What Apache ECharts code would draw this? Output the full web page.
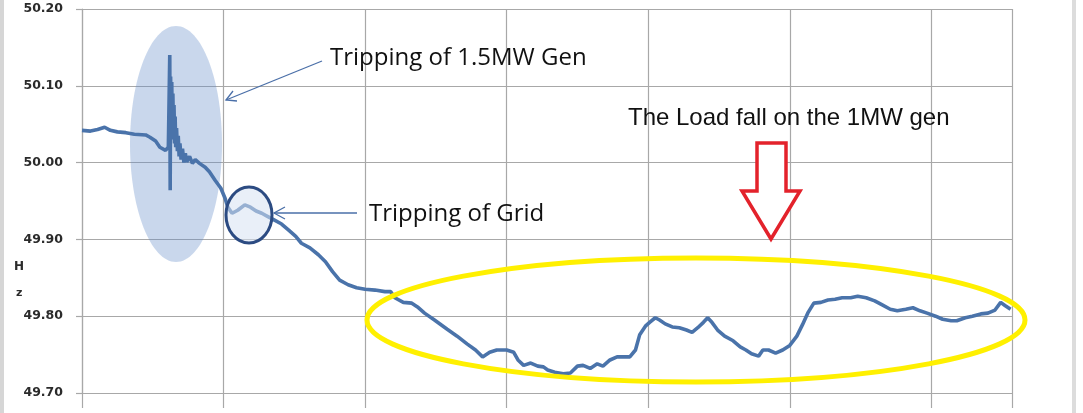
<!DOCTYPE html>
<html>
<head>
<meta charset="utf-8">
<script src="https://cdn.jsdelivr.net/npm/echarts@6/dist/echarts.min.js"></script>
<style>
html,body{margin:0;padding:0;background:#fff;}
#chart{width:1083px;height:413px;}
</style>
</head>
<body>
<div id="chart"></div>
<script>
// time index (sample number) and measured frequency (Hz)
const timeIdx = [0,6,11,16,20,25,31,37,45,48,52,55,59,61,62,62.3,62.6,63,63.4,63.8,64.2,64.6,65,65.4,65.8,66.2,66.8,67.4,68,68.6,69.2,70,71,72,73,74,76,78,80,83,87,90,94,98,101,103,106,110,115,119,123,127,131,136,141,146,151,155,161,167,172,177,182,188,194,200,207,214,218,221,227,233,237,242,249,258,265,272,278,283,288,293,300,305,308,312,317,322,326,329,334,340,345,350,354,359,364,368,373,378,384,387,391,394,398,401,405,408,412,417,422,427,431,435,439,442,445,449,454,460,465,469,473,478,481,485,490,495,500,505,509,513,517,522,527,532,537,543,548,554,560,565,571,576,582,587,592,597,603,608,614,618,624,629,635,640,645,649,652,656];
const frequencyHz = [50.042,50.041,50.043,50.046,50.042,50.040,50.039,50.037,50.036,50.033,50.028,50.020,50.016,50.020,50.140,49.964,50.112,50.030,50.105,50.040,50.090,50.035,50.075,50.025,50.060,50.020,50.045,50.015,50.035,50.008,50.025,50.004,50.018,50.000,50.012,50.001,50.008,49.999,50.004,49.999,49.994,49.988,49.977,49.967,49.954,49.942,49.934,49.938,49.945,49.942,49.937,49.934,49.930,49.925,49.920,49.912,49.904,49.895,49.889,49.880,49.871,49.858,49.847,49.841,49.837,49.835,49.834,49.832,49.832,49.824,49.818,49.817,49.812,49.804,49.795,49.783,49.774,49.764,49.756,49.747,49.753,49.756,49.756,49.753,49.743,49.736,49.739,49.735,49.734,49.730,49.727,49.725,49.726,49.735,49.736,49.732,49.738,49.735,49.743,49.747,49.747,49.747,49.756,49.776,49.787,49.792,49.798,49.795,49.790,49.786,49.785,49.782,49.779,49.785,49.792,49.798,49.792,49.782,49.774,49.768,49.760,49.756,49.751,49.748,49.756,49.756,49.752,49.756,49.762,49.774,49.789,49.805,49.817,49.818,49.821,49.822,49.824,49.824,49.826,49.824,49.820,49.815,49.809,49.807,49.809,49.811,49.807,49.804,49.800,49.796,49.794,49.794,49.798,49.800,49.803,49.804,49.808,49.818,49.814,49.809];
const yMin = 49.70, yMax = 50.20, yStep = 0.10;
const xMin = 0, xMax = 657, xStep = 100;

const seriesData = timeIdx.map((t, i) => [t, frequencyHz[i]]);

const chart = echarts.init(document.getElementById('chart'), null, {renderer: 'canvas'});
const gridColor = '#a8a8a8';
chart.setOption({
  animation: false,
  backgroundColor: '#ffffff',
  grid: {left: 82, top: 9, right: 71, bottom: 20, containLabel: false},
  xAxis: {
    type: 'value', min: xMin, max: xMax, interval: xStep,
    axisLine: {show: true, lineStyle: {color: gridColor, width: 1.2}},
    axisTick: {show: true, length: 15, lineStyle: {color: gridColor, width: 1.2}},
    axisLabel: {show: false},
    splitLine: {show: true, lineStyle: {color: gridColor, width: 1.2}}
  },
  yAxis: {
    type: 'value', min: yMin, max: yMax, interval: yStep,
    axisLine: {show: true, lineStyle: {color: gridColor, width: 1.2}},
    axisTick: {show: true, length: 6, lineStyle: {color: gridColor, width: 1.2}},
    axisLabel: {
      margin: 19, color: '#2b2b2b', fontWeight: 'bold', fontSize: 12.5,
      fontFamily: 'DejaVu Sans', formatter: v => v.toFixed(2)
    },
    splitLine: {show: true, lineStyle: {color: gridColor, width: 1.2}}
  },
  series: [{
    type: 'line', data: seriesData, showSymbol: false, symbol: 'none',
    lineStyle: {color: '#4a73aa', width: 3.6}, z: 3
  }],
  graphic: [
    {type: 'rect', shape: {x: 0, y: 0, width: 4, height: 413}, style: {fill: '#d6d6d6'}, z: 0},
    {type: 'rect', shape: {x: 1072, y: 0, width: 4, height: 413}, style: {fill: '#dcdcdc'}, z: 0},
    {type: 'text', left: 14, top: 261, style: {text: 'H', font: 'bold 12px "DejaVu Sans"', fill: '#2b2b2b'}},
    {type: 'text', left: 16, top: 288, style: {text: 'z', font: 'bold 11px "DejaVu Sans"', fill: '#2b2b2b'}},
    // light blue ellipse round the 1.5MW trip
    {type: 'ellipse', shape: {cx: 176, cy: 144, rx: 46, ry: 118}, style: {fill: 'rgba(100,140,200,0.35)'}, z: 1},
    // dark circle round the grid trip
    {type: 'ellipse', shape: {cx: 249, cy: 215, rx: 23, ry: 28}, style: {fill: 'rgba(215,226,242,0.55)', stroke: '#2c4b82', lineWidth: 3}, z: 10},
    // yellow ellipse
    {type: 'ellipse', shape: {cx: 696, cy: 320, rx: 329, ry: 62}, style: {fill: 'none', stroke: '#fff000', lineWidth: 5}, z: 10},
    // arrow to 1.5MW ellipse
    {type: 'line', shape: {x1: 322, y1: 61, x2: 226, y2: 100}, style: {stroke: '#4a6fa8', lineWidth: 1.3}, z: 10},
    {type: 'polyline', shape: {points: [[233, 91], [226, 100], [237, 101]]}, style: {stroke: '#4a6fa8', lineWidth: 1.3, fill: 'none'}, z: 10},
    // arrow to grid circle
    {type: 'line', shape: {x1: 357, y1: 213, x2: 274, y2: 213}, style: {stroke: '#4a6fa8', lineWidth: 1.3}, z: 10},
    {type: 'polyline', shape: {points: [[285, 207], [274, 213], [285, 219]]}, style: {stroke: '#4a6fa8', lineWidth: 1.3, fill: 'none'}, z: 10},
    // texts
    {type: 'text', left: 330, top: 46, style: {text: 'Tripping of 1.5MW Gen', font: '24px "Open Sans"', fill: '#111'}, z: 10},
    {type: 'text', left: 369, top: 202, style: {text: 'Tripping of Grid', font: '24px "Open Sans"', fill: '#111'}, z: 10},
    {type: 'text', left: 628, top: 106, style: {text: 'The Load fall on the 1MW gen', font: '24px "Liberation Sans"', fill: '#111'}, z: 10},
    // red hollow arrow
    {type: 'polygon', shape: {points: [[757, 143], [786, 143], [786, 191], [800, 191], [771, 239], [742, 191], [757, 191]]},
     style: {fill: '#ffffff', stroke: '#e3222b', lineWidth: 3.5}, z: 10}
  ]
});
</script>
</body>
</html>
